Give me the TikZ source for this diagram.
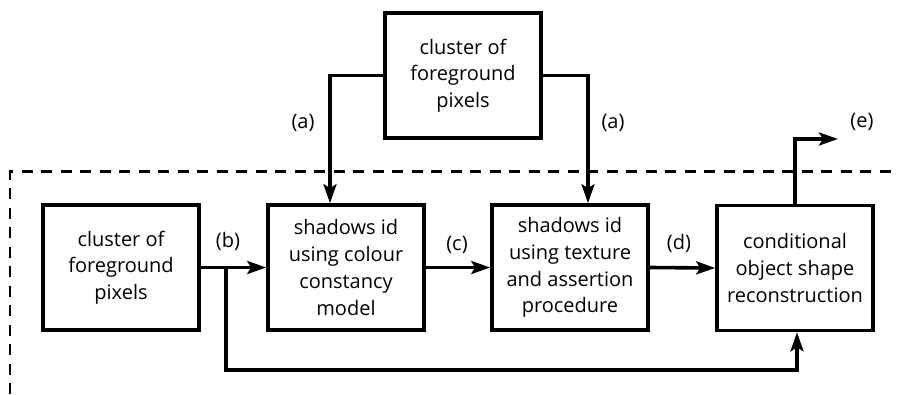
\documentclass[tikz,border=0pt]{standalone}
\usepackage{fontspec}
\setmainfont{Open Sans}
\usetikzlibrary{arrows.meta}
\begin{document}
\begin{tikzpicture}[x=1pt,y=-1pt,
  box/.style={draw,line width=3.6pt,minimum width=156pt,minimum height=125pt,align=center,inner sep=0pt,font=\fontsize{20}{26.7}\selectfont},
  lab/.style={font=\fontsize{20}{24}\selectfont,inner sep=0pt},
  conn/.style={line width=3.6pt},
  arr/.style={conn,-{Stealth[length=19pt,width=13pt,inset=4pt]}},
  dashline/.style={line width=2.6pt,dash pattern=on 11pt off 8.5pt}]
\useasboundingbox (0,0) rectangle (899,394);
\node[box] (top) at (463,75.5) {cluster of\\foreground\\pixels};
\node[box] (b1) at (121,267.5) {cluster of\\foreground\\pixels};
\node[box] (b2) at (346,267.5) {shadows id\\using colour\\constancy\\model};
\node[box] (b3) at (570,267.5) {shadows id\\using texture\\and assertion\\procedure};
\node[box] (b4) at (795,268) {conditional\\object shape\\reconstruction};
\coordinate (br) at (226,267.5);
\coordinate (bl) at (226,370);
\coordinate (e) at (838,139);
\coordinate (dl) at (10,394);
\coordinate (dc) at (10,171.5);
\coordinate (dr) at (899,171.5);
\draw[dashline] (dl) -- (dc) -- (dr);
\draw[arr] (top.west) -| ([xshift=-16pt]b2.north);
\draw[arr] (top.east) -| ([xshift=18pt]b3.north);
\draw[arr] (b1.east) -- (b2.west);
\draw[arr] (b2.east) -- (b3.west);
\draw[arr] (b3.east) -- (b4.west);
\draw[arr] (br) -- (bl) -| ([xshift=2pt]b4.south);
\draw[arr] (b4.north) |- (e);
\node[lab] (la1) at (303,123) {(a)};
\node[lab] (la2) at (613,123) {(a)};
\node[lab] (lb) at (228,241) {(b)};
\node[lab] (lc) at (457,245) {(c)};
\node[lab] (ld) at (679,243) {(d)};
\node[lab] (le) at (862,122) {(e)};
\end{tikzpicture}
\end{document}
